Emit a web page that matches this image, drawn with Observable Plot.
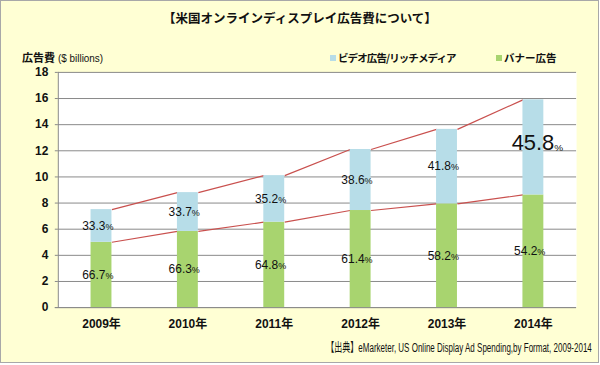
<!DOCTYPE html>
<html><head><meta charset="utf-8">
<script src="https://cdn.jsdelivr.net/npm/d3@7"></script>
<script src="https://cdn.jsdelivr.net/npm/@observablehq/plot@0.6"></script>
<style>
body{margin:0;background:#fff;}
#frame{position:relative;width:597px;height:361px;border:1px solid #a8a8a8;background:#FFFFD4;overflow:hidden;font-family:"Liberation Sans","Noto Sans CJK JP",sans-serif;color:#111;}
#title{position:absolute;left:-1px;top:8px;width:600px;text-align:center;font-weight:bold;font-size:12.5px;font-family:"Noto Sans CJK JP",sans-serif;line-height:18px;}
#ylab{position:absolute;left:21px;top:48px;white-space:nowrap;line-height:16px;}
#ylab b{font-family:"Noto Sans CJK JP",sans-serif;font-size:11px;}
#ylab span{display:inline-block;font-size:11.5px;transform:scaleX(0.86);transform-origin:left center;margin-left:3px;}
.leg{position:absolute;top:49px;white-space:nowrap;font-family:"Noto Sans CJK JP",sans-serif;font-weight:bold;font-size:10.5px;line-height:16px;}
.leg i{display:inline-block;width:6px;height:6px;margin-right:2px;vertical-align:1px;}
#leg1{letter-spacing:-0.9px;}
#chart{position:absolute;left:-1px;top:39px;}
#cap{position:absolute;right:6px;top:338px;white-space:nowrap;line-height:16px;}
#cap span{display:inline-block;font-size:12.5px;transform:scaleX(0.64);transform-origin:right center;}
#chart svg [aria-label="y-axis tick"]{stroke:#8a8a8a;}
</style></head>
<body>
<div id="frame">
  <div id="title"></div>
  <div id="ylab"></div>
  <div class="leg" id="leg1" style="left:329px"></div>
  <div class="leg" id="leg2" style="left:495px"></div>
  <div id="chart"></div>
  <div id="cap"><span></span></div>
</div>
<script>
const titleText = "【米国オンラインディスプレイ広告費について】";
const yLabelMain = "広告費";
const yLabelUnit = "($ billions)";
const seriesNames = ["ビデオ広告/リッチメディア", "バナー広告"];
const seriesColors = ["#B7DDE8", "#A8D46F"];
const captionText = "【出典】eMarketer, US Online Display Ad Spending,by Format, 2009-2014";

const years = [2009, 2010, 2011, 2012, 2013, 2014];
const banner = [5.0, 5.83, 6.54, 7.43, 7.94, 8.62];
const video = [2.5, 2.97, 3.56, 4.67, 5.70, 7.28];
const bannerPct = ["66.7", "66.3", "64.8", "61.4", "58.2", "54.2"];
const videoPct = ["33.3", "33.7", "35.2", "38.6", "41.8", "45.8"];
const yTicks = [0, 2, 4, 6, 8, 10, 12, 14, 16, 18];
const highlightYear = 2014;

document.getElementById("title").textContent = titleText;
document.getElementById("ylab").innerHTML = `<b></b><span></span>`;
document.querySelector("#ylab b").textContent = yLabelMain;
document.querySelector("#ylab span").textContent = yLabelUnit;
document.querySelector("#cap span").textContent = captionText;
[["leg1",0],["leg2",1]].forEach(([id,i]) => {
  const el = document.getElementById(id);
  const sw = document.createElement("i"); sw.style.background = seriesColors[i];
  el.appendChild(sw); el.appendChild(document.createTextNode(seriesNames[i]));
});

const data = years.map((year, i) => ({
  year, banner: banner[i], video: video[i], total: banner[i] + video[i],
  bannerPct: bannerPct[i], videoPct: videoPct[i]
}));
const pairs = data.slice(0, -1).map((d, i) => ({a: d, b: data[i + 1]}));

const xDomain = [years[0] - 0.5, years[years.length - 1] + 0.5];
const half = 0.121;
const lineColor = "#C9504E";
const normal = data.filter(d => d.year !== highlightYear);
const big = data.filter(d => d.year === highlightYear);

const chart = Plot.plot({
  width: 600, height: 300,
  marginTop: 32, marginBottom: 32, marginLeft: 58, marginRight: 22,
  style: {background: "transparent", fontFamily: "'Liberation Sans','Noto Sans CJK JP',sans-serif", color: "#111", overflow: "visible"},
  x: {domain: xDomain, label: null},
  y: {domain: [yTicks[0], yTicks[yTicks.length - 1]], label: null},
  marks: [
    Plot.frame({fill: "white", stroke: null}),
    Plot.gridY(yTicks, {stroke: "#8a8a8a", strokeOpacity: 1}),
    Plot.ruleX([xDomain[0]], {stroke: "#8a8a8a"}),
    Plot.ruleY([0], {stroke: "#8a8a8a", insetLeft: -3}),
    Plot.axisY(yTicks, {tickSize: 3, tickPadding: 7, fontSize: 12, fontWeight: "bold", tickFormat: d => d}),
    Plot.axisX(years, {tickSize: 0, tickPadding: 12, fontSize: 12, fontWeight: "bold", tickFormat: d => d + "年"}),
    Plot.link(pairs, {x1: p => p.a.year + half, y1: p => p.a.total, x2: p => p.b.year - half, y2: p => p.b.total, stroke: lineColor, strokeWidth: 1.2}),
    Plot.link(pairs, {x1: p => p.a.year + half, y1: p => p.a.banner, x2: p => p.b.year - half, y2: p => p.b.banner, stroke: lineColor, strokeWidth: 1.2}),
    Plot.rectY(data, {x1: d => d.year - half, x2: d => d.year + half, y1: 0, y2: "banner", fill: seriesColors[1]}),
    Plot.rectY(data, {x1: d => d.year - half, x2: d => d.year + half, y1: "banner", y2: "total", fill: seriesColors[0]}),
    // video labels
    Plot.text(normal, {x: "year", y: d => d.banner + d.video / 2, text: "videoPct", textAnchor: "end", dx: 4, fontSize: 12}),
    Plot.text(normal, {x: "year", y: d => d.banner + d.video / 2, text: () => "%", textAnchor: "start", dx: 4, dy: 1, fontSize: 9}),
    Plot.text(big, {x: "year", y: d => d.banner + d.video / 2, text: "videoPct", textAnchor: "end", dx: 21, dy: -4, fontSize: 22, fontWeight: 500}),
    Plot.text(big, {x: "year", y: d => d.banner + d.video / 2, text: () => "%", textAnchor: "start", dx: 21, dy: 0, fontSize: 10}),
    // banner labels
    Plot.text(data, {x: "year", y: d => d.banner / 2, text: "bannerPct", textAnchor: "end", dx: 4, fontSize: 12}),
    Plot.text(data, {x: "year", y: d => d.banner / 2, text: () => "%", textAnchor: "start", dx: 4, dy: 1, fontSize: 9})
  ]
});
document.getElementById("chart").appendChild(chart);
</script>
</body></html>
